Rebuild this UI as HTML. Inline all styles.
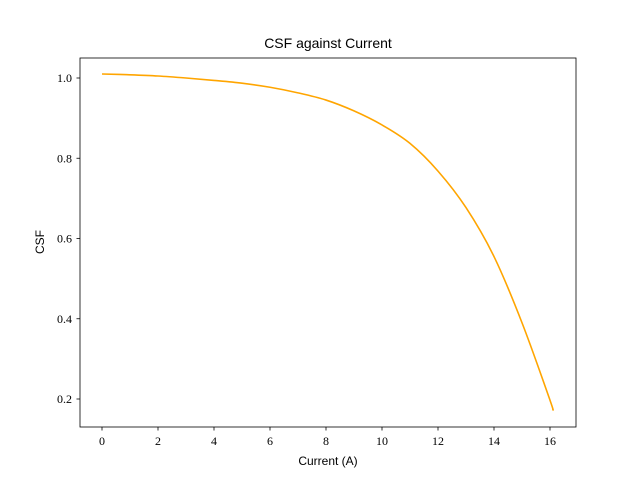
<!DOCTYPE html>
<html><head><meta charset="utf-8"><style>
body{margin:0;background:#fff;}
svg text{font-family:"Liberation Serif",serif;font-size:12px;fill:#000;}
.lbl{font-family:"Liberation Sans",sans-serif;font-size:12px;}
</style></head><body>
<svg id="chart" width="640" height="480">
<rect x="0" y="0" width="640" height="480" fill="#fff"/>
<g id="marks"></g>
<rect x="80" y="58" width="496" height="369" fill="none" stroke="#000" stroke-width="0.8"/>
<g id="axes"></g>
<text class="lbl" x="328" y="48" text-anchor="middle" style="font-size:14px">CSF against Current</text>
<text class="lbl" x="328" y="465" text-anchor="middle">Current (A)</text>
<text class="lbl" transform="translate(44,242) rotate(-90)" text-anchor="middle">CSF</text>
</svg>
<script>
const currents=[0,1,2,3,4,5,6,7,8,9,10,11,12,13,14,15,16,16.1];
const csfValues=[1.01,1.008,1.005,1.0,0.994,0.987,0.977,0.963,0.945,0.918,0.883,0.837,0.768,0.677,0.555,0.39,0.197,0.172];
const xTicks=[0,2,4,6,8,10,12,14,16];
const yTicks=[0.2,0.4,0.6,0.8,1.0];
const ns="http://www.w3.org/2000/svg";
function xs(v){return 102+v*28;}
function ys(v){return 78+(1-v)*401.25;}
const axes=document.getElementById('axes');
xTicks.forEach(t=>{
  const l=document.createElementNS(ns,'line');
  l.setAttribute('x1',xs(t));l.setAttribute('x2',xs(t));l.setAttribute('y1',427);l.setAttribute('y2',430.5);l.setAttribute('stroke','#000');l.setAttribute('stroke-width','0.8');
  
  
  axes.appendChild(l);
  const tx=document.createElementNS(ns,'text');
  tx.setAttribute('x',xs(t));tx.setAttribute('y',445);tx.setAttribute('text-anchor','middle');tx.textContent=t;
  
  
  axes.appendChild(tx);
});
yTicks.forEach(t=>{
  const l=document.createElementNS(ns,'line');
  l.setAttribute('x1',76.5);l.setAttribute('x2',80);l.setAttribute('y1',ys(t));l.setAttribute('y2',ys(t));l.setAttribute('stroke','#000');l.setAttribute('stroke-width','0.8');
  
  
  axes.appendChild(l);
  const tx=document.createElementNS(ns,'text');
  tx.setAttribute('x',72);tx.setAttribute('y',ys(t)+4);tx.setAttribute('text-anchor','end');tx.textContent=t.toFixed(1);
  
  
  axes.appendChild(tx);
});
const pts=currents.map((c,i)=>[xs(c),ys(csfValues[i])]);
let d='M'+pts[0][0]+','+pts[0][1];
for(let i=0;i<pts.length-1;i++){
  const p0=pts[Math.max(0,i-1)],p1=pts[i],p2=pts[i+1],p3=pts[Math.min(pts.length-1,i+2)];
  const c1=[p1[0]+(p2[0]-p0[0])/6,p1[1]+(p2[1]-p0[1])/6];
  const c2=[p2[0]-(p3[0]-p1[0])/6,p2[1]-(p3[1]-p1[1])/6];
  d+=' C'+c1[0]+','+c1[1]+' '+c2[0]+','+c2[1]+' '+p2[0]+','+p2[1];
}
const p=document.createElementNS(ns,'path');
p.setAttribute('d',d);
p.setAttribute('fill','none');p.setAttribute('stroke','#ffa500');p.setAttribute('stroke-width','1.6');


document.getElementById('marks').appendChild(p);
</script>
</body></html>
